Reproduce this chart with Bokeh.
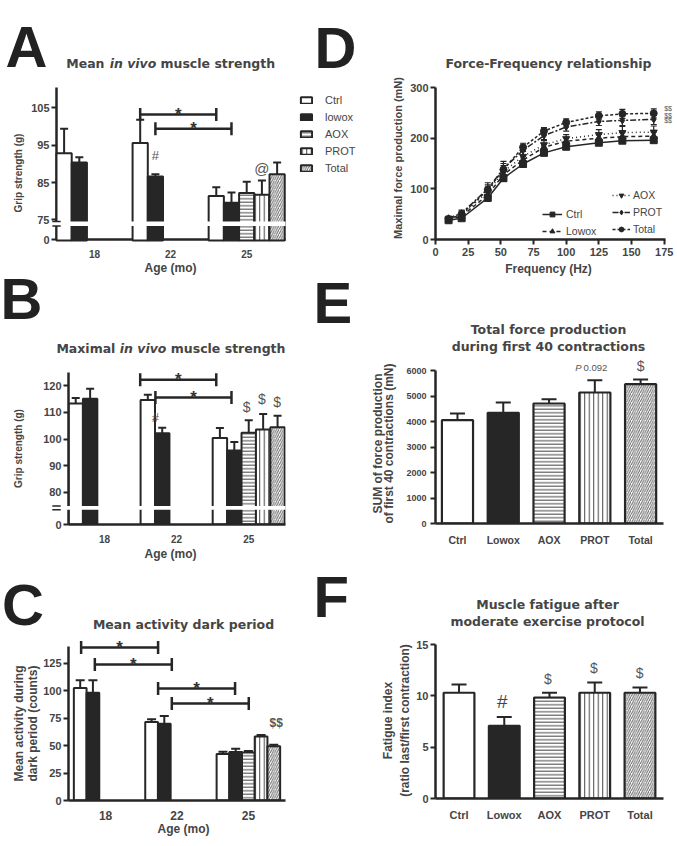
import math
from bokeh.plotting import figure
from bokeh.models import (ColumnDataSource, Label, Legend, LegendItem, FixedTicker,
                          Range1d, Whisker, TeeHead, GridBox)
from bokeh.layouts import row, column
from bokeh.embed import file_html
from bokeh.resources import INLINE

# ------------------------------------------------------------------ data
groups = ["Ctrl", "lowox", "AOX", "PROT", "Total"]
groups_EF = ["Ctrl", "Lowox", "AOX", "PROT", "Total"]
ages = ["18", "22", "25"]

# A: mean in vivo muscle strength, grip strength (g); None = not measured
A_ctrl = [93.0, 95.7, 81.6]
A_lowox = [90.5, 86.8, 79.8]
A_aox = [None, None, 82.4]
A_prot = [None, None, 81.9]
A_total = [None, None, 87.4]
A_ctrl_sem = [6.5, 6.2, 2.3]
A_lowox_sem = [1.4, 0.6, 2.7]
A_aox_sem = [None, None, 3.0]
A_prot_sem = [None, None, 3.8]
A_total_sem = [None, None, 3.1]
A_yticks = [75, 85, 95, 105]
A_zero = 69.7            # where "0" sits below the axis break
A_gap = (73.6, 74.8)     # axis break
A_brackets = [(0, 1, 103.3), (1, 1, 99.5)]   # (group, first age index, y)
A_marks = [("#", 1, 1, 92.3, 13), ("@", 3, 2, 88.9, 15)]   # (text, group, age, y, size)

# B: maximal in vivo muscle strength (g)
B_ctrl = [113.3, 114.6, 100.4]
B_lowox = [115.1, 102.2, 95.7]
B_aox = [None, None, 102.3]
B_prot = [None, None, 103.6]
B_total = [None, None, 104.4]
B_ctrl_sem = [2.1, 2.0, 3.7]
B_lowox_sem = [3.7, 2.0, 3.2]
B_aox_sem = [None, None, 4.7]
B_prot_sem = [None, None, 5.8]
B_total_sem = [None, None, 4.3]
B_yticks = [80, 90, 100, 110, 120]
B_zero = 68.0
B_gap = (73.5, 74.9)
B_brackets = [(0, 1, 122.2), (1, 1, 115.5)]
B_marks = [("#", 1, 1, 108.0, 13), ("$", 2, 2, 111.8, 14), ("$", 3, 2, 115.1, 14),
           ("$", 4, 2, 114.0, 14)]

# C: mean activity during dark period (counts)
C_ctrl = [102.7, 71.6, 42.4]
C_lowox = [98.2, 70.1, 44.2]
C_aox = [None, None, 43.9]
C_prot = [None, None, 58.5]
C_total = [None, None, 49.4]
C_ctrl_sem = [7.1, 2.5, 2.1]
C_lowox_sem = [11.6, 7.0, 3.1]
C_aox_sem = [None, None, 1.2]
C_prot_sem = [None, None, 1.3]
C_total_sem = [None, None, 1.5]
C_yticks = [0, 25, 50, 75, 100, 125]
C_brackets = [(0, 0, 139.6), (1, 0, 124.1), (0, 1, 102.2), (1, 1, 88.5)]
C_marks = [("$$", 3, 2, 71.0, 12)]

# D: force-frequency relationship (mN)
D_freq = [10, 20, 40, 52, 67, 83, 100, 125, 143, 167]
D_ctrl = [38, 42, 82, 121, 149, 171, 183, 191, 195, 196]
D_lowox = [40, 46, 88, 128, 157, 182, 194, 200, 203, 204]
D_aox = [40, 48, 94, 134, 164, 187, 199, 207, 211, 212]
D_prot = [42, 52, 100, 140, 176, 205, 222, 233, 235, 237]
D_total = [40, 50, 98, 138, 182, 214, 231, 244, 248, 249]
D_ctrl_sem = [4, 4, 5, 6, 5, 5, 5, 5, 5, 5]
D_lowox_sem = [4, 5, 8, 8, 8, 7, 7, 8, 8, 8]
D_aox_sem = [4, 6, 10, 12, 10, 8, 8, 10, 12, 12]
D_prot_sem = [4, 6, 12, 14, 10, 8, 8, 8, 10, 10]
D_total_sem = [4, 6, 10, 12, 8, 7, 7, 8, 9, 9]
D_xticks = [0, 25, 50, 75, 100, 125, 150, 175]
D_yticks = [0, 100, 200, 300]
D_marks_y = [257, 244, 234]          # "$$" beside the last points

# E: sum of force production of first 40 contractions (mN)
E_mean = [4052, 4340, 4706, 5137, 5464]
E_sem = [262, 405, 170, 484, 183]
E_yticks = [0, 1000, 2000, 3000, 4000, 5000, 6000]
E_marks = [("$", 4, 6184, 14)]

# F: fatigue index (ratio last/first contraction)
F_mean = [10.3, 7.08, 9.84, 10.3, 10.3]
F_sem = [0.8, 0.87, 0.46, 1.0, 0.5]
F_yticks = [0, 5, 10, 15]
F_marks = [("#", 1, 9.45, 19), ("$", 2, 11.6, 14), ("$", 3, 12.7, 14), ("$", 4, 12.2, 14)]

# ------------------------------------------------------------------ style
INK = "#262626"
TXT = "#454545"
MARK = "#555555"
SANS = "Liberation Sans"
TFONT = "DejaVu Sans"
W, H = 677, 846

STYLE = {
    "Ctrl": dict(fill_color="white"),
    "lowox": dict(fill_color=INK),
    "AOX": dict(fill_color="white", hatch_pattern="horizontal_line", hatch_scale=3.5,
                hatch_weight=1, hatch_color="#444444"),
    "PROT": dict(fill_color="white", hatch_pattern="vertical_line", hatch_scale=4.5,
                 hatch_weight=1, hatch_color="#444444"),
    "Total": dict(fill_color="white", hatch_pattern="right_diagonal_line", hatch_scale=4.5,
                  hatch_weight=1, hatch_color="#666666"),
}

GEOM = {}   # frame placement of every panel on the page: (left, top, width, height)


def make_fig(name, ox, oy, w, h, l, r, t, b, xr, yr):
    p = figure(width=w, height=h, min_border_left=l, min_border_right=r,
               min_border_top=t, min_border_bottom=b,
               x_range=Range1d(*xr), y_range=Range1d(*yr),
               output_backend="svg", toolbar_location=None, tools="")
    GEOM[name] = (ox + l, oy + t, w - l - r, h - t - b, xr, yr)
    p.grid.visible = False
    p.outline_line_color = None
    p.background_fill_color = "white"
    p.border_fill_color = "white"
    for ax in p.axis:
        ax.axis_line_width = 2.5
        ax.axis_line_color = INK
        ax.major_tick_line_width = 2
        ax.major_tick_line_color = INK
        ax.major_tick_in = 0
        ax.major_tick_out = 5
        ax.minor_tick_line_color = None
        ax.major_label_text_font = SANS
        ax.major_label_text_font_style = "bold"
        ax.major_label_text_color = TXT
        ax.major_label_text_font_size = "11px"
        ax.major_label_standoff = 2
    return p


def whisk(p, base, lower, upper, dim, cap, lw=2, both=False, rng="default"):
    src = ColumnDataSource(dict(base=base, lower=lower, upper=upper))
    p.add_layout(Whisker(source=src, base="base", lower="lower", upper="upper",
                         dimension=dim, line_width=lw, line_color=INK, level="annotation",
                         x_range_name=rng, y_range_name=rng,
                         upper_head=TeeHead(size=cap, line_width=lw, line_color=INK),
                         lower_head=(TeeHead(size=cap, line_width=lw, line_color=INK)
                                     if both else None)))


def grouped_bars(p, series, sems, offsets, width, bottom, cap, rng="default"):
    rs = {}
    for g, vals, errs, off in zip(groups, series, sems, offsets):
        xs = [i + off for i, v in enumerate(vals) if v is not None]
        tops = [v for v in vals if v is not None]
        ups = [v + e for v, e in zip(vals, errs) if v is not None]
        rs[g] = p.vbar(x=xs, top=tops, bottom=bottom, width=width,
                       line_color=INK, line_width=2, x_range_name=rng, y_range_name=rng,
                       **STYLE[g])
        whisk(p, xs, tops, ups, "height", cap, rng=rng)
    return rs


def age_axes(p, zero=None, yticks=None):
    p.xaxis.ticker = FixedTicker(ticks=[0, 1, 2])
    p.xaxis.major_label_overrides = {i: a for i, a in enumerate(ages)}
    p.xaxis.major_tick_line_color = None
    p.xaxis.major_label_text_font_size = "10px"
    p.xaxis.major_label_standoff = 5
    if zero is not None:
        p.yaxis.ticker = FixedTicker(ticks=[zero] + yticks)
        p.yaxis.major_label_overrides = {zero: "0"}
    else:
        p.yaxis.ticker = FixedTicker(ticks=yticks)


OFF_AB = [-0.4, -0.2, 0.0, 0.2, 0.4]
OFF_C = [-0.356, -0.178, 0.0, 0.178, 0.356]

# ------------------------------------------------------------------ panel A (axes)
pA = make_fig("A", 0, 0, 370, 312, 56, 85, 87, 72, (-0.5, 2.51), (A_zero, 110.5))
age_axes(pA, A_zero, A_yticks)

# ------------------------------------------------------------------ panel D
pD = make_fig("D", 370, 0, 307, 312, 65, 12, 86, 73, (0, 176), (0, 300))
pD.xaxis.ticker = FixedTicker(ticks=D_xticks)
pD.yaxis.ticker = FixedTicker(ticks=D_yticks)
pD.xaxis.major_label_standoff = 3
d_items = []
for name, vals, sem, mk, dash in [
        ("Ctrl", D_ctrl, D_ctrl_sem, "square", "solid"),
        ("Lowox", D_lowox, D_lowox_sem, "triangle", "4 3"),
        ("AOX", D_aox, D_aox_sem, "inverted_triangle", "1 3"),
        ("PROT", D_prot, D_prot_sem, "diamond", "6 2 2 2"),
        ("Total", D_total, D_total_sem, "circle", "3 2")]:
    lo = [v - e for v, e in zip(vals, sem)]
    hi = [v + e for v, e in zip(vals, sem)]
    whisk(pD, D_freq, lo, hi, "height", 6, lw=1.2, both=True)
    rl = pD.line(D_freq, vals, line_color=INK, line_width=1.5, line_dash=dash)
    rs = pD.scatter(D_freq, vals, marker=mk, size=7, fill_color=INK, line_color=INK)
    d_items.append(LegendItem(label=name, renderers=[rl, rs]))
for items, loc, gw, sd in [(d_items[:2], (107, 2), 20, 4), (d_items[2:], (177, 4), 18, 3)]:
    pD.add_layout(Legend(items=items, location=loc, glyph_width=gw, glyph_height=12,
                         label_height=12, label_width=10, label_standoff=sd, spacing=5,
                         padding=0, margin=0, border_line_color=None,
                         background_fill_alpha=0, label_text_font=SANS,
                         label_text_font_size="10.5px", label_text_color=TXT))

# ------------------------------------------------------------------ panel B
pB = make_fig("B", 0, 312, 316, 252, 56, 31, 60, 40, (-0.5, 2.51), (B_zero, 124.9))
age_axes(pB, B_zero, B_yticks)
grouped_bars(pB, [B_ctrl, B_lowox, B_aox, B_prot, B_total],
             [B_ctrl_sem, B_lowox_sem, B_aox_sem, B_prot_sem, B_total_sem],
             OFF_AB, 0.2, B_zero, 8)

# ------------------------------------------------------------------ panel C
pC = make_fig("C", 0, 564, 316, 282, 68, 14, 82, 46, (-0.52, 2.52), (0, 140.5))
age_axes(pC, None, C_yticks)
pC.xaxis.major_label_text_font_size = "12px"
grouped_bars(pC, [C_ctrl, C_lowox, C_aox, C_prot, C_total],
             [C_ctrl_sem, C_lowox_sem, C_aox_sem, C_prot_sem, C_total_sem],
             OFF_C, 0.178, 0, 9)


# ------------------------------------------------------------------ panels E, F
def single_bars(p, means, sems, cap):
    xs = list(range(len(groups)))
    for i, g in enumerate(groups):
        p.vbar(x=[xs[i]], top=[means[i]], bottom=0, width=0.68,
               line_color=INK, line_width=2.2, **STYLE[g])
    whisk(p, xs, means, [m + s for m, s in zip(means, sems)], "height", cap)
    p.xaxis.ticker = FixedTicker(ticks=xs)
    p.xaxis.major_label_overrides = {i: g for i, g in enumerate(groups_EF)}
    p.xaxis.major_tick_line_color = None
    p.xaxis.major_label_standoff = 5


pE = make_fig("E", 316, 312, 361, 236, 119, 14, 58, 25, (-0.48, 4.5), (0, 6000))
single_bars(pE, E_mean, E_sem, 15)
pE.yaxis.ticker = FixedTicker(ticks=E_yticks)
pE.yaxis.major_label_text_font_size = "9px"
pE.yaxis.major_label_standoff = 4
pE.xaxis.major_label_text_font_size = "10.5px"

pF = make_fig("F", 316, 548, 361, 298, 116, 14, 96, 48, (-0.52, 4.52), (0, 15))
single_bars(pF, F_mean, F_sem, 15)
pF.yaxis.ticker = FixedTicker(ticks=F_yticks)
pF.xaxis.major_label_text_font_size = "11px"

# ------------------------------------------------------------------ overlay layer
# A transparent, page-sized figure laid over the panels; each panel's data
# scale is reproduced here as an extra range so that marks and the legend
# reaching outside a frame are not clipped.
ov = figure(width=W, height=H, min_border=0, x_range=Range1d(0, W), y_range=Range1d(H, 0),
            output_backend="svg", toolbar_location=None, tools="",
            x_axis_location=None, y_axis_location=None)
ov.grid.visible = False
ov.outline_line_color = None
ov.background_fill_alpha = 0
ov.border_fill_alpha = 0
for name, (fl, ft, fw, fh, xr, yr) in GEOM.items():
    sx = fw / (xr[1] - xr[0])
    sy = fh / (yr[1] - yr[0])
    ov.extra_x_ranges[name] = Range1d(xr[0] - fl / sx, xr[0] + (W - fl) / sx)
    ov.extra_y_ranges[name] = Range1d(yr[0] - (H - ft - fh) / sy, yr[0] + (ft + fh) / sy)

# panel A bars live on this layer (on panel A's scale) so its legend, which sits
# to the right of the frame, can show their swatches
rA = grouped_bars(ov, [A_ctrl, A_lowox, A_aox, A_prot, A_total],
                  [A_ctrl_sem, A_lowox_sem, A_aox_sem, A_prot_sem, A_total_sem],
                  OFF_AB, 0.2, A_zero, 8, rng="A")
ov.add_layout(Legend(items=[LegendItem(label=g, renderers=[rA[g]]) for g in groups],
                     location=(299, H - 174), glyph_width=14,
                     glyph_height=8, label_height=12, label_width=10, label_standoff=12,
                     spacing=5, padding=0, margin=0, border_line_color=None,
                     background_fill_alpha=0, label_text_font=SANS,
                     label_text_font_size="11px", label_text_color=TXT))


def lab(x, y, text, size, style="bold", align="center", baseline="middle",
        angle=0.0, font=SANS, color=TXT, rng="default"):
    ov.add_layout(Label(x=x, y=y, x_units="data", y_units="data", text=text,
                        x_range_name=rng, y_range_name=rng,
                        text_font=font, text_font_size=f"{size}px",
                        text_font_style=style, text_align=align,
                        text_baseline=baseline, angle=angle, text_color=color))


def brackets(spec, offsets, rng):
    for gi, a0, y in spec:
        x1 = a0 + offsets[gi]
        x2 = a0 + 1 + offsets[gi]
        whisk(ov, [y], [x1], [x2], "width", 13, lw=2.5, both=True, rng=rng)
        lab((x1 + x2) / 2, y, "*", 17, baseline="alphabetic", color="#333333", rng=rng)


def axis_break(gap, rng, xr):
    ov.quad(left=[xr[0] - 0.09], right=[xr[1]], bottom=[gap[0]], top=[gap[1]],
            fill_color="white", line_color=None, x_range_name=rng, y_range_name=rng)
    ov.segment(x0=[xr[0] - 0.055] * 2, x1=[xr[0] + 0.055] * 2, y0=list(gap), y1=list(gap),
               line_color=INK, line_width=1.5, x_range_name=rng, y_range_name=rng)


axis_break(A_gap, "A", GEOM["A"][4])
axis_break(B_gap, "B", GEOM["B"][4])
brackets(A_brackets, OFF_AB, "A")
brackets(B_brackets, OFF_AB, "B")
brackets(C_brackets, OFF_C, "C")
for t, gi, ai, y, s in A_marks:
    lab(ai + OFF_AB[gi], y, t, s, style="normal", color=MARK, rng="A")
for t, gi, ai, y, s in B_marks:
    lab(ai + OFF_AB[gi], y, t, s, style="normal", color=MARK, rng="B")
for t, gi, ai, y, s in C_marks:
    lab(ai + OFF_C[gi], y, t, s, color=MARK, rng="C")
for yy in D_marks_y:
    lab(178, yy, "$$", 7, style="normal", color=MARK, rng="D")
for t, xi, y, s in E_marks:
    lab(xi, y, t, s, style="normal", color=MARK, rng="E")
for t, xi, y, s in F_marks:
    lab(xi, y, t, s, style="normal", color="#444444" if t == "#" else MARK, rng="F")
lab(581, 367, "P", 9.5, style="italic", align="right", color=MARK)
lab(583, 367, "0.092", 9.5, style="normal", align="left", color=MARK)

# panel letters
for t, x, y in [("A", 5, 46), ("D", 314, 47), ("B", 0, 298), ("E", 313, 302),
                ("C", 1.5, 604), ("F", 313, 596)]:
    lab(x, y, t, 58, align="left", baseline="alphabetic", color="#222222")

# panel titles
lab(104, 63, "Mean", 12.5, align="right", font=TFONT)
lab(132.5, 63, "in vivo", 12.5, style="bold italic", font=TFONT)
lab(160, 63, "muscle strength", 12.5, align="left", font=TFONT)
lab(548, 63, "Force-Frequency relationship", 12.5, font=TFONT)
lab(114.9, 348, "Maximal", 12.5, align="right", font=TFONT)
lab(142.6, 348, "in vivo", 12.5, style="bold italic", font=TFONT)
lab(170.3, 348, "muscle strength", 12.5, align="left", font=TFONT)
lab(548, 329, "Total force production", 12.5, font=TFONT)
lab(548, 346, "during first 40 contractions", 12.5, font=TFONT)
lab(183, 624, "Mean activity dark period", 12.5, font=TFONT)
lab(547, 604, "Muscle fatigue after", 12.5, font=TFONT)
lab(547, 621, "moderate exercise protocol", 12.5, font=TFONT)

# axis titles
UP = math.pi / 2
lab(18, 172.5, "Grip strength (g)", 10, angle=UP)
lab(170, 267, "Age (mo)", 12)
lab(397, 157.5, "Maximal force production (mN)", 11, angle=UP)
lab(548, 268, "Frequency (Hz)", 12)
lab(18, 448, "Grip strength (g)", 10, angle=UP)
lab(170, 553, "Age (mo)", 12)
lab(377, 443, "SUM of force production", 12, angle=UP)
lab(388, 443, "of first 40 contractions (mN)", 12, angle=UP)
lab(18, 723, "Mean activity during", 12, angle=UP)
lab(32, 723, "dark period (counts)", 12, angle=UP)
lab(183, 828, "Age (mo)", 12)
lab(387.5, 720, "Fatigue index", 12, angle=UP)
lab(404, 720, "(ratio last/first contraction)", 12, angle=UP)

panels = column(row(pA, pD), row(column(pB, pC), column(pE, pF)))
page = GridBox(children=[(panels, 0, 0), (ov, 0, 0)])
open("out.html", "w").write(file_html(page, INLINE))
